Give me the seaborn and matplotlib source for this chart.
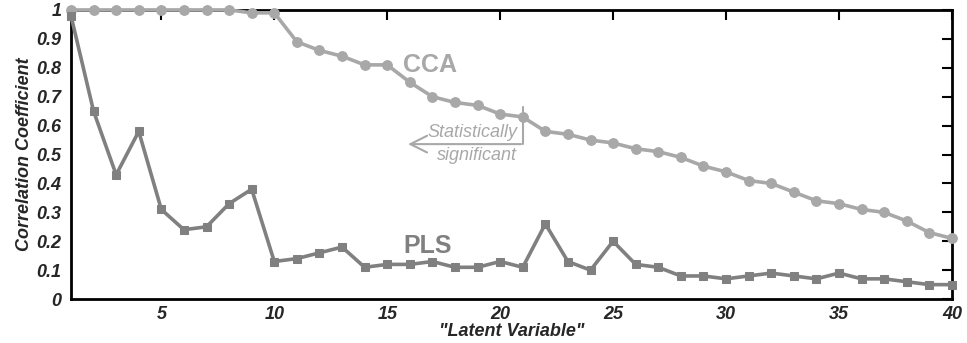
import numpy as np
import pandas as pd
import matplotlib
matplotlib.use("Agg")
import matplotlib.pyplot as plt
import seaborn as sns

latent = list(range(1, 41))
cca = [1.0, 1.0, 1.0, 1.0, 1.0, 1.0, 1.0, 1.0, 0.99, 0.99,
       0.89, 0.86, 0.84, 0.81, 0.81, 0.75, 0.70, 0.68, 0.67, 0.64,
       0.63, 0.58, 0.57, 0.55, 0.54, 0.52, 0.51, 0.49, 0.46, 0.44,
       0.41, 0.40, 0.37, 0.34, 0.33, 0.31, 0.30, 0.27, 0.23, 0.21]
pls = [0.98, 0.65, 0.43, 0.58, 0.31, 0.24, 0.25, 0.33, 0.38, 0.13,
       0.14, 0.16, 0.18, 0.11, 0.12, 0.12, 0.13, 0.11, 0.11, 0.13,
       0.11, 0.26, 0.13, 0.10, 0.20, 0.12, 0.11, 0.08, 0.08, 0.07,
       0.08, 0.09, 0.08, 0.07, 0.09, 0.07, 0.07, 0.06, 0.05, 0.05]
x_ticks = [5, 10, 15, 20, 25, 30, 35, 40]
y_ticks = [0, 0.1, 0.2, 0.3, 0.4, 0.5, 0.6, 0.7, 0.8, 0.9, 1]
y_labels = ["0", "0.1", "0.2", "0.3", "0.4", "0.5", "0.6", "0.7", "0.8", "0.9", "1"]

sns.set_style("white")
plt.rcParams['font.family'] = ['Liberation Sans', 'DejaVu Sans']

df_cca = pd.DataFrame({"lv": latent, "val": cca})
df_pls = pd.DataFrame({"lv": latent, "val": pls})

c_cca = "#a8a8a8"
c_pls = "#808080"

fig = plt.figure(figsize=(9.67, 3.43), dpi=100)
ax = fig.add_axes([0.0734, 0.128, 0.911, 0.843])

sns.lineplot(data=df_cca, x="lv", y="val", ax=ax, color=c_cca, lw=2.6,
             marker="o", markersize=7, markeredgecolor=c_cca, clip_on=False, zorder=3)
sns.lineplot(data=df_pls, x="lv", y="val", ax=ax, color=c_pls, lw=2.6,
             marker="s", markersize=6, markeredgecolor=c_pls, clip_on=False, zorder=4)

ax.set_xlim(1, 40)
ax.set_ylim(0, 1)
ax.set_xticks(x_ticks)
ax.set_xticklabels([str(t) for t in x_ticks])
ax.set_yticks(y_ticks)
ax.set_yticklabels(y_labels)
ax.tick_params(direction="in", length=7, width=1.5, top=True, right=True,
               labelsize=13, color="black")
ax.tick_params(axis="y", pad=7)
ax.tick_params(axis="x", pad=5)
for lab in ax.get_xticklabels() + ax.get_yticklabels():
    lab.set_fontweight("bold")
    lab.set_fontstyle("italic")
for sp in ax.spines.values():
    sp.set_color("black")
    sp.set_linewidth(2)

ax.set_xlabel('"Latent Variable"', fontsize=13, fontweight="bold", fontstyle="italic", labelpad=0)
ax.set_ylabel("Correlation Coefficient", fontsize=13, fontweight="bold", fontstyle="italic", labelpad=2)

ax.text(15.7, 0.81, "CCA", color=c_cca, fontsize=18, fontweight="bold", va="center", ha="left")
ax.text(15.7, 0.183, "PLS", color=c_pls, fontsize=18, fontweight="bold", va="center", ha="left")

# bracket / arrow
ax.plot([21, 21], [0.664, 0.536], color=c_cca, lw=1.5)
ax.annotate("", xy=(15.8, 0.536), xytext=(21.05, 0.536),
            arrowprops=dict(arrowstyle="->", color=c_cca, lw=1.5, mutation_scale=30))
ax.text(20.75, 0.575, "Statistically", color=c_cca, fontsize=13, fontstyle="italic",
        ha="right", va="center")
ax.text(20.75, 0.495, "significant", color=c_cca, fontsize=13, fontstyle="italic",
        ha="right", va="center")

fig.savefig("out.png", dpi=100)
